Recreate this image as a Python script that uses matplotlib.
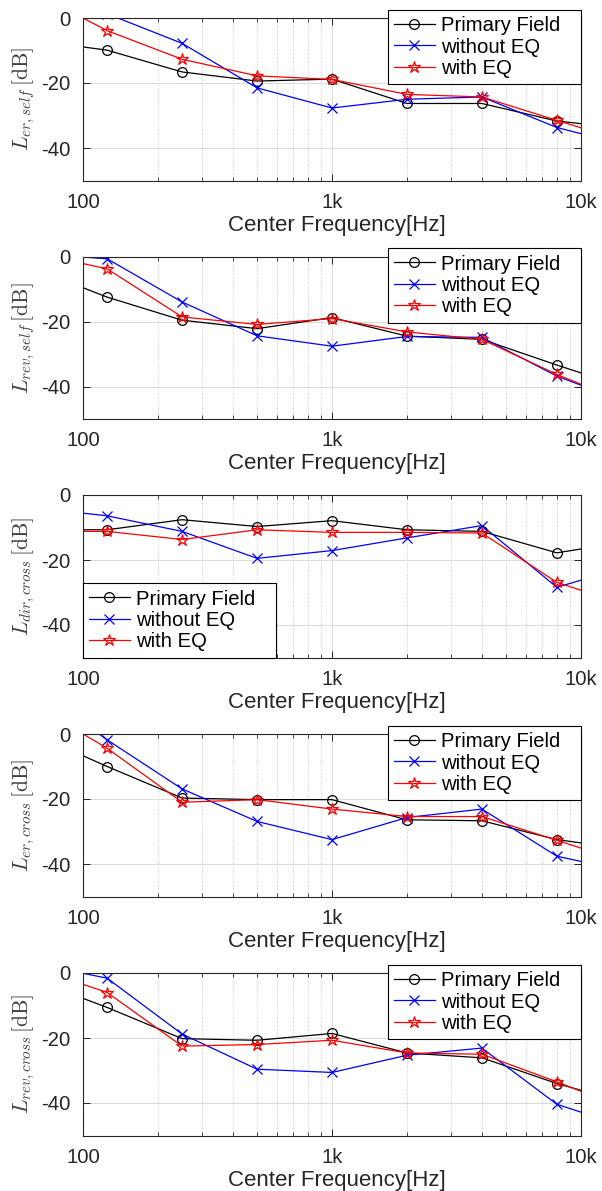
import matplotlib
matplotlib.use("Agg")
import matplotlib.pyplot as plt
from matplotlib.ticker import FixedLocator, NullFormatter

plt.rcParams['font.family'] = ['Liberation Sans', 'DejaVu Sans']
plt.rcParams['mathtext.fontset'] = 'cm'
plt.rcParams['axes.unicode_minus'] = False

# octave band centres (first and last lie outside the visible range)
freqs = [62.5, 125, 250, 500, 1000, 2000, 4000, 8000, 16000]

# panel 1: L_er,self
er_self_primary = [-6.8, -9.9, -16.6, -19.4, -18.8, -26.3, -26.3, -31.7, -34.2]
er_self_noeq = [3.0, 1.3, -7.8, -21.5, -27.7, -25.0, -24.3, -33.7, -39.6]
er_self_eq = [8.2, -3.9, -12.7, -17.8, -18.9, -23.5, -24.3, -31.5, -38.6]

# panel 2: L_rev,self
rev_self_primary = [-3.5, -12.5, -19.6, -22.2, -18.8, -24.5, -25.5, -33.4, -40.9]
rev_self_noeq = [0.9, -0.7, -14.0, -24.4, -27.6, -24.6, -24.9, -36.8, -45.5]
rev_self_eq = [1.2, -3.8, -18.6, -20.9, -19.1, -23.2, -25.5, -36.3, -45.6]

# panel 3: L_dir,cross
dir_cross_primary = [-10.7, -10.7, -7.6, -9.7, -7.9, -10.7, -11.2, -17.8, -14.1]
dir_cross_noeq = [-3.9, -6.4, -11.2, -19.5, -17.1, -13.2, -9.4, -28.4, -21.6]
dir_cross_eq = [-11.2, -11.2, -13.7, -10.7, -11.5, -11.5, -11.7, -26.9, -34.4]

# panel 4: L_er,cross
er_cross_primary = [0.3, -10.0, -19.7, -20.2, -20.2, -26.4, -26.7, -32.5, -35.6]
er_cross_noeq = [15.0, -1.8, -16.9, -26.9, -32.5, -25.7, -23.1, -37.6, -42.6]
er_cross_eq = [9.3, -4.4, -21.0, -20.2, -23.1, -25.4, -25.4, -32.7, -40.2]

# panel 5: L_rev,cross
rev_cross_primary = [-1.9, -10.6, -20.2, -20.7, -18.6, -24.6, -26.1, -34.0, -40.5]
rev_cross_noeq = [3.1, -1.6, -18.8, -29.6, -30.6, -25.3, -23.1, -40.4, -47.9]
rev_cross_eq = [1.8, -6.0, -22.5, -22.0, -20.7, -24.6, -25.0, -33.5, -42.5]

panels = [
    (r'$L_{er,self}\,[\mathrm{dB}]$', er_self_primary, er_self_noeq, er_self_eq, 'upper right'),
    (r'$L_{rev,self}\,[\mathrm{dB}]$', rev_self_primary, rev_self_noeq, rev_self_eq, 'upper right'),
    (r'$L_{dir,cross}\,[\mathrm{dB}]$', dir_cross_primary, dir_cross_noeq, dir_cross_eq, 'lower left'),
    (r'$L_{er,cross}\,[\mathrm{dB}]$', er_cross_primary, er_cross_noeq, er_cross_eq, 'upper right'),
    (r'$L_{rev,cross}\,[\mathrm{dB}]$', rev_cross_primary, rev_cross_noeq, rev_cross_eq, 'upper right'),
]

W, H = 602, 1191
fig = plt.figure(figsize=(W / 100, H / 100), dpi=100)

tops = [18, 256.5, 495, 734, 973]
ax_h = 162.5
left, right = 83, 581
dark = '#262626'
fs = 14.6
leg_w = 193 / (right - left)

for top, (ylab, prim, noeq, eq, loc) in zip(tops, panels):
    ax = fig.add_axes([left / W, 1 - (top + ax_h) / H, (right - left) / W, ax_h / H])
    ax.plot(freqs, prim, color='k', lw=0.9, marker='o', ms=7, mfc='none', mew=0.9,
            label='Primary Field')
    ax.plot(freqs, noeq, color='b', lw=0.9, marker='x', ms=7, mew=0.9,
            label='without EQ')
    ax.plot(freqs, eq, color='r', lw=0.9, marker='*', ms=9, mfc='none', mew=0.9,
            label='with EQ')

    ax.set_xscale('log')
    ax.set_xlim(100, 10000)
    ax.set_ylim(-50, 0)
    ax.xaxis.set_major_locator(FixedLocator([100, 1000, 10000]))
    ax.set_xticklabels(['100', '1k', '10k'])
    ax.xaxis.set_minor_locator(FixedLocator([200, 300, 400, 500, 600, 700, 800, 900,
                                             2000, 3000, 4000, 5000, 6000, 7000, 8000, 9000]))
    ax.xaxis.set_minor_formatter(NullFormatter())
    ax.set_yticks([-40, -20, 0])

    ax.grid(True, which='major', color='#dcdcdc', lw=0.8, ls='-')
    ax.grid(True, which='minor', axis='x', color='#c8c8c8', lw=0.7, ls=':')
    ax.set_axisbelow(True)

    ax.tick_params(which='both', direction='in', top=True, right=True, colors=dark,
                   labelsize=fs)
    ax.tick_params(which='major', length=5, width=0.7)
    ax.tick_params(which='minor', length=3, width=0.6)
    ax.tick_params(axis='x', pad=9)
    ax.tick_params(axis='y', pad=9)
    for s in ax.spines.values():
        s.set_color(dark)
        s.set_linewidth(0.8)

    ax.set_xlabel('Center Frequency[Hz]', fontsize=16, color=dark)
    ax.xaxis.set_label_coords(0.51, -0.21)
    ax.set_ylabel(ylab, fontsize=15.5, color='#404040')
    ax.yaxis.set_label_coords(-0.092, 0.5)

    if loc == 'upper right':
        anchor = (1.0 - leg_w, 1.0 + 8 / ax_h, leg_w, 0)
        lloc = 'upper left'
    else:
        anchor = (0.0, 0.0, leg_w, 0)
        lloc = 'lower left'
    leg = ax.legend(loc=lloc, bbox_to_anchor=anchor, mode='expand', borderaxespad=0,
                    fontsize=fs, fancybox=False, framealpha=1, edgecolor='k',
                    labelspacing=0.12, borderpad=0.3, handlelength=2.0,
                    handletextpad=0.3)
    leg.get_frame().set_linewidth(0.8)

fig.savefig('out.png', dpi=100)
